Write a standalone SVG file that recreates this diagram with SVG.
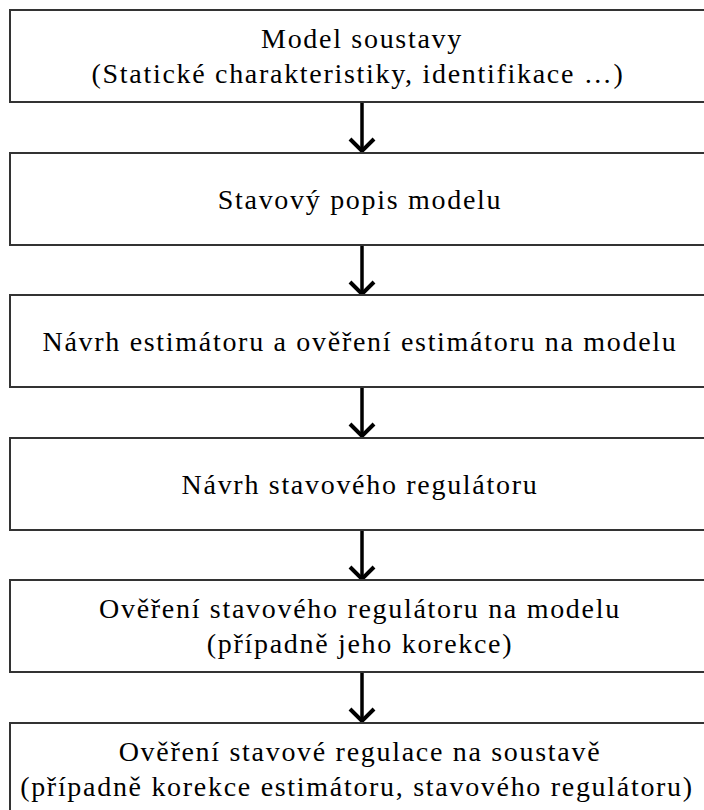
<svg xmlns="http://www.w3.org/2000/svg" width="704" height="810" viewBox="0 0 704 810">
<style>
.box{fill:#fff;stroke:#333;stroke-width:2}
.t{font-family:"Liberation Serif","Times New Roman",serif;font-size:28px;letter-spacing:1.7px;fill:#000;text-anchor:middle}
.shaft{stroke:#000;stroke-width:3.5;fill:none}
.head{stroke:#000;stroke-width:4;fill:none;stroke-linecap:butt;stroke-linejoin:miter}
</style>
<rect width="704" height="810" fill="#fff"/>
<g id="connectors">
<line class="shaft" x1="362" y1="102" x2="362" y2="151"/><polyline class="head" points="350,139 362,151 374,139"/>
<line class="shaft" x1="362" y1="245" x2="362" y2="294"/><polyline class="head" points="350,282 362,294 374,282"/>
<line class="shaft" x1="362" y1="387" x2="362" y2="436"/><polyline class="head" points="350,424 362,436 374,424"/>
<line class="shaft" x1="362" y1="530" x2="362" y2="579"/><polyline class="head" points="350,567 362,579 374,567"/>
<line class="shaft" x1="362" y1="672" x2="362" y2="721"/><polyline class="head" points="350,709 362,721 374,709"/>
</g>
<g id="n1"><rect class="box" x="10" y="10" width="720" height="92"/>
<text class="t" x="362" y="48">Model soustavy</text>
<text class="t" x="358" y="83">(Statické charakteristiky, identifikace …)</text></g>
<g id="n2"><rect class="box" x="10" y="153" width="720" height="92"/>
<text class="t" x="360" y="209">Stavový popis modelu</text></g>
<g id="n3"><rect class="box" x="10" y="295" width="720" height="92"/>
<text class="t" x="360" y="351">Návrh estimátoru a ověření estimátoru na modelu</text></g>
<g id="n4"><rect class="box" x="10" y="438" width="720" height="92"/>
<text class="t" x="360" y="494">Návrh stavového regulátoru</text></g>
<g id="n5"><rect class="box" x="10" y="580" width="720" height="92"/>
<text class="t" x="360" y="618">Ověření stavového regulátoru na modelu</text>
<text class="t" x="360" y="653">(případně jeho korekce)</text></g>
<g id="n6"><rect class="box" x="10" y="723" width="720" height="120"/>
<text class="t" x="360" y="761">Ověření stavové regulace na soustavě</text>
<text class="t" x="357" y="796">(případně korekce estimátoru, stavového regulátoru)</text></g>
</svg>
